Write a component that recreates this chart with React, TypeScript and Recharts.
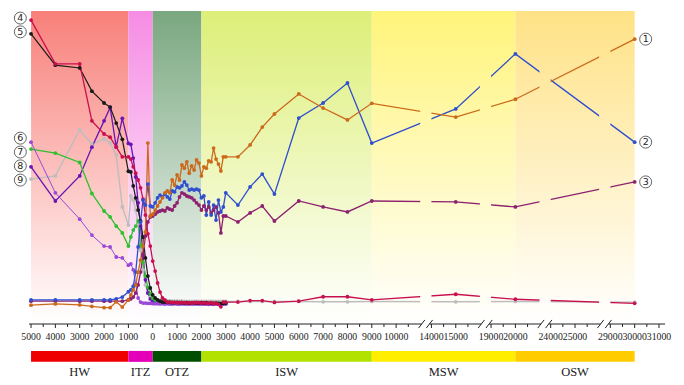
import React from 'react';
import {
  LineChart,
  Line,
  XAxis,
  YAxis,
  ReferenceArea,
  ReferenceLine,
  ReferenceDot,
} from 'recharts';

// sampling distances (m); negative = upstream side (HW), 0 = mouth
const hwDist = [-5000, -4000, -3000, -2500, -2000, -1750, -1500, -1250, -1000];
const transDist = [
  -900, -800, -700, -600, -500, -400, -300, -200, -100, 0,
  100, 200, 300, 400, 500, 600, 700, 800, 900, 1000,
  1100, 1200, 1300, 1400, 1500, 1600, 1700, 1800, 1900, 2000,
  2100, 2200, 2300, 2400, 2500, 2600, 2700, 2800, 2900, 3000,
];
const iswDist = [3500, 4000, 4500, 5000, 6000, 7000, 8000, 9000];
const seaDist = [15000, 20000, 30000];
const distance = [...hwDist, ...transDist, ...iswDist, ...seaDist];

const N = null;

// relative values (0-100), rows: HW | ITZ | OTZ | OTZ | ISW | ISW + sea
const s1 = [
  6.0, 6.4, 6.1, 5.6, 5.2, 5.2, 7.1, 5.4, 7.7,
  9.3, 10.9, 12.5, 16.6, 20.4, 24.9, 29.4, 57.8, 34.5, 35.1,
  36.4, 37.7, 39.0, 40.3, 41.9, 42.5, 41.9, 46.0, 44.4, 47.6,
  46.0, 50.8, 49.8, 51.8, 48.2, 50.5, 49.2, 52.4, 51.4, 47.3,
  50.2, 49.8, 52.1, 51.8, 56.2, 52.7, 51.1, 48.9, 53.4, 53.4,
  53.4, 57.2, 62.9, 67.1, 73.5, 69.0, 65.2, 70.5, 66.1, 71.8, 91.0,
];
const s2 = [
  7.7, 7.7, 7.7, 7.7, 7.7, 7.7, 8.0, 8.6, 10.3,
  10.9, 12.1, 16.6, 24.6, 32.6, 39.6, 38.0, 44.7, 37.7, 37.4,
  38.7, 40.3, 41.2, 40.6, 41.5, 40.6, 39.9, 42.5, 42.2, 43.8,
  43.5, 44.1, 45.4, 44.4, 42.8, 43.1, 42.8, 43.1, 42.8, 40.3,
  40.9, 34.8, 39.0, 34.8, 38.0, 33.2, 39.6, 35.8, 37.4, 41.9,
  38.0, 43.8, 47.9, 41.5, 65.8, 70.6, 77.0, 57.8, 68.7, 86.3, 58.1,
];
const s3 = [
  7.3, 7.3, 7.3, 7.3, 7.3, 7.3, 7.3, 7.3, 7.7,
  8.0, 8.6, 9.9, 12.5, 16.6, 22.0, 28.1, 32.6, 34.2, 34.5,
  35.1, 35.8, 36.1, 36.4, 36.1, 37.1, 36.7, 36.4, 37.7, 38.7,
  40.6, 41.9, 41.5, 40.9, 40.6, 40.3, 39.6, 38.7, 38.0, 36.4,
  37.7, 36.4, 37.4, 35.5, 36.4, 37.4, 35.5, 29.1, 34.5, 34.5,
  32.6, 35.5, 37.7, 32.9, 39.3, 37.4, 35.8, 39.3, 39.0, 37.4, 45.4,
];
const s4 = [
  97.1, 83.1, 83.1, 64.9, 60.7, 59.7, 56.5, 53.4, 53.4,
  52.7, 50.2, 48.2, 46.0, 43.5, 39.9, 34.8, 28.8, 24.9, 20.1,
  16.9, 13.1, 10.2, 8.3, 7.7, 7.0, 7.0, 6.9, 6.9, 6.8,
  6.8, 6.9, 6.8, 6.7, 6.8, 6.7, 6.8, 6.9, 6.8, 6.7,
  6.8, 6.7, 6.6, 6.8, 6.5, 6.7, 6.3, 5.5, 7.0, 7.0,
  7.0, 7.5, 7.5, 6.9, 7.3, 8.7, 8.7, 7.7, 9.5, 7.9, 6.6,
];
const s5 = [
  92.7, 82.7, 81.8, 74.4, 70.6, 69.3, 64.2, 59.0, 48.8,
  48.6, 44.1, 40.3, 36.4, 32.9, 27.8, 21.1, 15.3, 11.5, 9.3,
  8.3, 7.7, 7.3, 7.0, 7.0, 6.9, 6.9, 6.8, 6.8, 6.9,
  6.8, 6.8, 6.7, 6.8, 6.7, 6.7, 6.8, 6.7, 6.7, 6.8,
  6.7, 6.8, 6.6, 6.7, 6.6, 6.7, 6.6, 6.5, 6.6, 6.7,
  N, N, N, N, N, N, N, N, N, N, N,
];
const s6 = [
  58.1, 41.9, 33.5, 28.4, 24.9, 24.6, 21.4, 21.1, 18.8,
  19.2, 17.3, 12.8, 8.3, 7.0, 6.7, 6.7, 6.6, 6.6, 6.5,
  6.5, 6.5, 6.4, 6.5, 6.4, 6.5, 6.4, 6.4, 6.5, 6.4,
  6.4, 6.5, 6.4, 6.4, 6.4, 6.5, 6.4, 6.4, 6.4, 6.4,
  6.4, 6.4, 6.3, 6.4, 6.3, 6.4, 6.3, 6.3, 6.4, 6.4,
  N, N, N, N, N, N, N, N, N, N, N,
];
const s7 = [
  55.9, 54.6, 51.6, 41.7, 36.1, 34.2, 31.3, 29.1, 24.9,
  27.8, 30.0, 31.3, 32.9, 25.2, 19.8, 15.3, 11.8, 9.6, 8.3,
  7.7, 7.3, 7.2, 7.1, 7.0, 7.0, 6.9, 6.9, 6.9, 6.8,
  6.8, 6.8, 6.8, 6.8, 6.7, 6.7, 6.7, 6.7, 6.7, 6.7,
  6.7, 6.7, 6.6, 6.7, 6.6, 6.6, 6.6, 6.6, 6.6, 6.6,
  N, N, N, N, N, N, N, N, N, N, N,
];
const s8 = [
  50.2, 39.3, 47.3, 56.5, 64.9, 69.2, 56.6, 65.7, 57.7,
  57.4, 53.0, 47.0, 38.7, 31.3, 22.0, 14.1, 9.9, 8.0, 7.3,
  6.9, 6.7, 6.6, 6.6, 6.5, 6.6, 6.5, 6.5, 6.6, 6.5,
  6.5, 6.5, 6.6, 6.5, 6.5, 6.5, 6.5, 6.6, 6.5, 6.5,
  6.5, 6.4, 6.5, 6.4, 6.4, 6.5, 6.4, 6.2, 6.4, 6.5,
  N, N, N, N, N, N, N, N, N, N, N,
];
const s9 = [
  46.3, 47.3, 62.0, 57.5, 59.1, 57.8, 54.0, 37.4, 31.6,
  40.9, 39.6, 36.4, 31.6, 23.6, 17.3, 12.5, 9.9, 8.6, 8.0,
  7.7, 7.6, 7.5, 7.5, 7.4, 7.4, 7.4, 7.3, 7.3, 7.3,
  7.3, 7.3, 7.2, 7.2, 7.2, 7.2, 7.2, 7.2, 7.2, 7.2,
  7.2, 7.2, 7.2, 7.2, 7.2, 7.2, 7.2, 7.2, 7.2, 7.2,
  7.2, 7.2, 7.2, 7.2, 7.2, 7.1, 7.1, 7.2, 7.1, 7.2, 7.0,
];

const tickDist = [
  -5000, -4000, -3000, -2000, -1000, 0, 1000, 2000, 3000, 4000, 5000, 6000, 7000, 8000, 9000, 10000,
  14000, 15000, 19000, 20000, 24000, 25000, 29000, 30000, 31000,
];
const tickLabels = [
  '5000', '4000', '3000', '2000', '1000', '0', '1000', '2000', '3000', '4000', '5000', '6000', '7000',
  '8000', '9000', '10000', '14000', '15000', '19000', '20000', '24000', '25000', '29000', '30000', '31000',
];
const minorDist = [
  -4500, -3500, -2500, -1500, -500, 500, 1500, 2500, 3500, 4500, 5500, 6500, 7500, 8500, 9500, 10500,
  14500, 15500, 19500, 20500, 24500, 25500, 29500, 30500,
];
// the axis is cut between 10000-14000, 15000-19000, 20000-24000, 25000-29000
const breakAt = [14000, 19000, 24000, 29000];

const zoneNames = ['HW', 'ITZ', 'OTZ', 'ISW', 'MSW', 'OSW'];
const zoneFrom = [-5000, -1000, 0, 2000, 9000, 20000];
const zoneTo = [-1000, 0, 2000, 9000, 20000, 30000];
const zoneShade = ['#f8807a', '#f68ce4', '#79a77f', '#ddef78', '#fff47a', '#ffe286'];
const zoneBand = ['#ee0000', '#e400b8', '#004f00', '#b2e200', '#ffee00', '#ffcc00'];

// distance -> position on the broken axis
const toPos = (d: number) => {
  if (d < 12000) return (d + 5000) / 1000;
  if (d < 17000) return 16.45 + (d - 14000) / 1000;
  if (d < 22000) return 18.9 + (d - 19000) / 1000;
  if (d < 27000) return 21.35 + (d - 24000) / 1000;
  return 23.8 + (d - 29000) / 1000;
};

const series = [
  { key: 's1', num: 1, values: s1, color: '#cc6a1c', width: 1.3, side: 'right', dy: 0 },
  { key: 's2', num: 2, values: s2, color: '#2f4fcf', width: 1.3, side: 'right', dy: 0 },
  { key: 's3', num: 3, values: s3, color: '#8d2070', width: 1.3, side: 'right', dy: 0 },
  { key: 's4', num: 4, values: s4, color: '#c8104e', width: 1.3, side: 'left', dy: -2 },
  { key: 's5', num: 5, values: s5, color: '#1a1a1a', width: 1.2, side: 'left', dy: -2 },
  { key: 's6', num: 6, values: s6, color: '#9a48d8', width: 1, side: 'left', dy: -4 },
  { key: 's7', num: 7, values: s7, color: '#2fbf2f', width: 1.3, side: 'left', dy: 3 },
  { key: 's8', num: 8, values: s8, color: '#6a14b4', width: 1.3, side: 'left', dy: -1 },
  { key: 's9', num: 9, values: s9, color: '#bdbdbd', width: 1.4, side: 'left', dy: 1 },
];

const rows = distance.map((d, i) => {
  const row: Record<string, number | null> = { pos: toPos(d) };
  series.forEach((s) => {
    row[s.key] = s.values[i];
  });
  return row;
});

const labelByPos = new Map(tickDist.map((d, i) => [toPos(d).toFixed(3), tickLabels[i]]));
const allTicks = [...tickDist, ...minorDist].map(toPos).sort((a, b) => a - b);
const breakPos = breakAt.map(toPos);

const serif = "'Liberation Serif', 'Times New Roman', serif";

const AxisTick = (props: any) => {
  const { x, y, payload } = props;
  const label = labelByPos.get(Number(payload.value).toFixed(3));
  return (
    <g>
      <line x1={x} x2={x} y1={y} y2={y + (label ? 4 : 3)} stroke="#222" strokeWidth={1} />
      {label && (
        <text x={x} y={y + 16} textAnchor="middle" fontSize={9.8} fontFamily={serif} fill="#222">
          {label}
        </text>
      )}
    </g>
  );
};

const circled = (n: number, dx: number, dy: number) => (p: any) => (
  <g>
    <circle cx={p.cx + dx} cy={p.cy + dy} r={6} fill="#fff" stroke="#555" strokeWidth={0.9} />
    <text
      x={p.cx + dx}
      y={p.cy + dy + 3.3}
      textAnchor="middle"
      fontSize={9.5}
      fontFamily="'DejaVu Sans', sans-serif"
      fill="#222"
    >
      {n}
    </text>
  </g>
);

const endPoint = (values: (number | null)[], side: string) => {
  let idx = values.findIndex((v) => v != null);
  if (side === 'right') {
    for (let i = values.length - 1; i >= 0; i--) {
      if (values[i] != null) {
        idx = i;
        break;
      }
    }
  }
  return { x: toPos(distance[idx]), y: values[idx] as number };
};

const zoneOf = (p: number) =>
  zoneFrom.findIndex((f, i) => p >= toPos(f) && p <= toPos(zoneTo[i]));

export default function App() {
  return (
    <div style={{ position: 'absolute', left: 0, top: 0, width: 684, height: 385, background: '#fff' }}>
      <LineChart
        width={684}
        height={385}
        data={rows}
        margin={{ top: 11, right: 17.7, bottom: 41, left: 28.6 }}
      >
        <defs>
          {zoneShade.map((c, i) => (
            <linearGradient key={i} id={`zone-${i}`} gradientUnits="userSpaceOnUse" x1={0} y1={11} x2={0} y2={322}>
              <stop offset="0%" stopColor={c} />
              <stop offset="100%" stopColor="#ffffff" />
            </linearGradient>
          ))}
        </defs>
        <XAxis
          dataKey="pos"
          type="number"
          domain={[-0.1, 26.1]}
          ticks={allTicks}
          interval={0}
          tick={AxisTick}
          tickSize={0}
          tickMargin={0}
          axisLine={false}
          tickLine={false}
          height={20}
          allowDataOverflow
        />
        <YAxis hide domain={[0, 100]} allowDataOverflow />

        {zoneNames.map((z, i) => (
          <ReferenceArea
            key={`bg-${z}`}
            x1={toPos(zoneFrom[i])}
            x2={toPos(zoneTo[i])}
            y1={0}
            y2={100}
            fill={`url(#zone-${i})`}
            fillOpacity={1}
            stroke="none"
            zIndex={-50}
          />
        ))}

        {[...series].reverse().map((s) => (
          <Line
            key={s.key}
            dataKey={s.key}
            type="linear"
            stroke={s.color}
            strokeWidth={s.width}
            dot={{ r: 1.9, fill: s.color, stroke: 'none' }}
            activeDot={false}
            connectNulls={false}
            isAnimationActive={false}
          />
        ))}

        {/* line interruptions at the axis breaks */}
        {breakPos.map((b) => (
          <ReferenceArea
            key={`gap-${b}`}
            x1={b - 0.46}
            x2={b}
            y1={0}
            y2={100}
            fill={`url(#zone-${zoneOf(b - 0.2)})`}
            fillOpacity={1}
            stroke="none"
            zIndex={450}
          />
        ))}

        {/* broken x axis line */}
        {[-0.08, ...breakPos.map((b) => b - 0.08)].map((a, i) => (
          <ReferenceLine
            key={`ax-${i}`}
            segment={[
              { x: a, y: 0 },
              { x: i < breakPos.length ? breakPos[i] - 0.4 : 26.05, y: 0 },
            ]}
            stroke="#222"
            strokeWidth={1}
            ifOverflow="visible"
            zIndex={500}
          />
        ))}
        {breakPos.flatMap((b) => [b - 0.4, b - 0.08]).map((s, i) => (
          <ReferenceLine
            key={`sl-${i}`}
            segment={[
              { x: s - 0.13, y: -1.3 },
              { x: s + 0.13, y: 1.3 },
            ]}
            stroke="#222"
            strokeWidth={1}
            ifOverflow="visible"
            zIndex={500}
          />
        ))}

        {/* zone colour band under the axis */}
        {zoneNames.map((z, i) => (
          <ReferenceArea
            key={`band-${z}`}
            x1={toPos(zoneFrom[i])}
            x2={toPos(zoneTo[i])}
            y1={-12.1}
            y2={-8.6}
            fill={zoneBand[i]}
            fillOpacity={1}
            stroke="none"
            ifOverflow="visible"
            zIndex={500}
            label={{ value: z, position: 'bottom', offset: 5, fontSize: 12.5, fill: '#222', fontFamily: serif }}
          />
        ))}

        {series.map((s) => {
          const p = endPoint(s.values, s.side);
          return (
            <ReferenceDot
              key={`lab-${s.key}`}
              x={p.x}
              y={p.y}
              r={0}
              ifOverflow="visible"
              zIndex={600}
              shape={circled(s.num, s.side === 'left' ? -10.7 : 11, s.dy)}
            />
          );
        })}
      </LineChart>
    </div>
  );
}
